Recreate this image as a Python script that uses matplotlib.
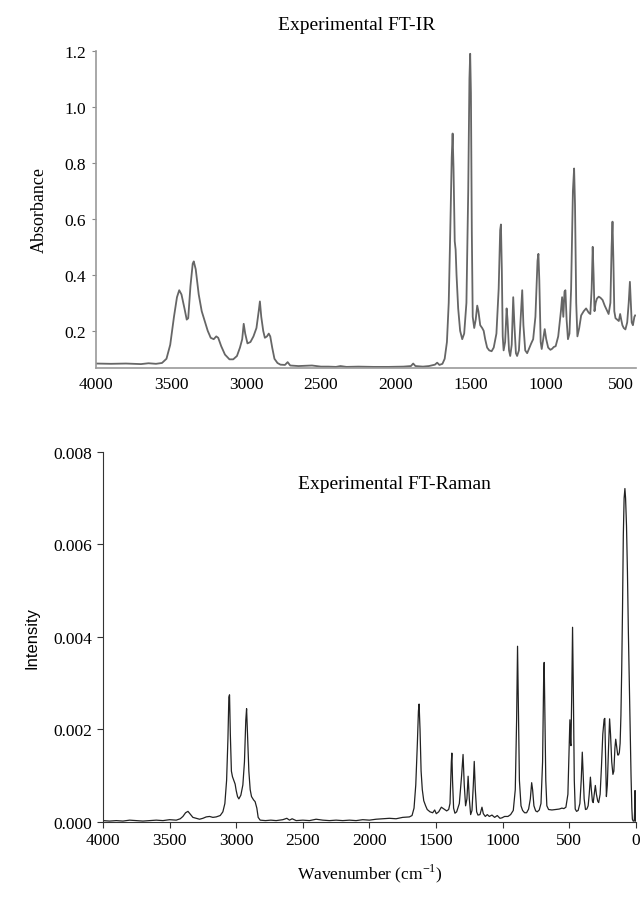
import numpy as np
import matplotlib.pyplot as plt

plt.rcParams['font.family'] = ['Liberation Serif', 'DejaVu Serif']
plt.rcParams['mathtext.fontset'] = 'custom'
plt.rcParams['mathtext.rm'] = 'Liberation Serif'

#===================================================================================================
# FT-IR spectrum (wavenumber cm-1, absorbance)
ir_wn = [4000, 3900, 3800, 3700, 3650, 3600, 3560, 3530, 3505, 3480, 3460, 3445, 3430, 3410, 3395,
         3385, 3370, 3355, 3348, 3335, 3315, 3295, 3275, 3255, 3235, 3215, 3198, 3185, 3165, 3140,
         3110, 3085, 3060, 3040, 3025, 3015, 3005, 2990, 2970, 2950, 2930, 2915, 2907, 2898, 2885,
         2874, 2860, 2848, 2838, 2825, 2810, 2790, 2770, 2740, 2722, 2705, 2650, 2600, 2560, 2500,
         2450, 2400, 2370, 2330, 2250, 2150, 2050, 1950, 1900, 1885, 1870, 1820, 1780, 1740, 1725,
         1710, 1690, 1675, 1660, 1648, 1638, 1628, 1622, 1616, 1608, 1602, 1596, 1585, 1572, 1558,
         1545, 1530, 1518, 1510, 1505, 1500, 1494, 1488, 1478, 1468, 1458, 1450, 1438, 1425, 1415,
         1405, 1392, 1378, 1362, 1348, 1330, 1315, 1305, 1300, 1294, 1288, 1282, 1272, 1262, 1256,
         1246, 1238, 1228, 1218, 1210, 1200, 1192, 1180, 1168, 1158, 1150, 1138, 1125, 1110, 1098,
         1085, 1070, 1056, 1050, 1044, 1035, 1028, 1018, 1008, 998, 985, 970, 958, 948, 935,
         918, 900, 892, 884, 876, 870, 862, 853, 843, 832, 820, 812, 806, 798, 790,
         778, 765, 748, 732, 715, 704, 695, 688, 682, 676, 668, 660, 648, 636, 622,
         608, 595, 582, 570, 562, 556, 550, 544, 536, 525, 514, 505, 498, 490, 481,
         470, 458, 448, 440, 434, 428, 420, 410, 405]
ir_abs = [0.083, 0.082, 0.083, 0.081, 0.084, 0.082, 0.085, 0.100, 0.150, 0.250, 0.320, 0.345, 0.330, 0.280, 0.240,
          0.245, 0.360, 0.440, 0.448, 0.420, 0.330, 0.270, 0.235, 0.200, 0.175, 0.170, 0.180, 0.175, 0.145, 0.115,
          0.098, 0.098, 0.110, 0.140, 0.170, 0.225, 0.190, 0.155, 0.160, 0.180, 0.210, 0.270, 0.305, 0.250, 0.200,
          0.175, 0.180, 0.190, 0.180, 0.140, 0.100, 0.085, 0.079, 0.078, 0.088, 0.076, 0.074, 0.075, 0.076, 0.072,
          0.072, 0.071, 0.074, 0.071, 0.072, 0.071, 0.071, 0.072, 0.074, 0.083, 0.074, 0.072, 0.074, 0.079, 0.086,
          0.078, 0.082, 0.100, 0.160, 0.300, 0.550, 0.820, 0.905, 0.780, 0.520, 0.490, 0.400, 0.280, 0.200, 0.170,
          0.190, 0.300, 0.700, 1.100, 1.190, 1.050, 0.550, 0.250, 0.210, 0.240, 0.290, 0.270, 0.220, 0.210, 0.200,
          0.170, 0.140, 0.130, 0.127, 0.140, 0.190, 0.350, 0.560, 0.580, 0.420, 0.180, 0.130, 0.160, 0.280, 0.240,
          0.130, 0.110, 0.150, 0.320, 0.220, 0.120, 0.110, 0.130, 0.250, 0.345, 0.220, 0.130, 0.120, 0.140, 0.155,
          0.170, 0.250, 0.450, 0.475, 0.380, 0.160, 0.135, 0.170, 0.206, 0.170, 0.140, 0.132, 0.136, 0.142, 0.145,
          0.180, 0.270, 0.320, 0.250, 0.340, 0.345, 0.240, 0.170, 0.190, 0.350, 0.700, 0.780, 0.650, 0.300, 0.180,
          0.210, 0.255, 0.270, 0.280, 0.265, 0.260, 0.350, 0.500, 0.400, 0.270, 0.300, 0.315, 0.322, 0.318, 0.310,
          0.290, 0.275, 0.260, 0.300, 0.500, 0.590, 0.450, 0.270, 0.245, 0.240, 0.235, 0.260, 0.240, 0.220, 0.210,
          0.205, 0.230, 0.300, 0.375, 0.300, 0.230, 0.220, 0.250, 0.255]

#===================================================================================================
# FT-Raman spectrum (wavenumber cm-1, intensity)
raman_wn = [4000, 3950, 3900, 3850, 3800, 3750, 3700, 3650, 3600, 3550, 3500, 3450, 3420, 3400, 3380,
            3362, 3345, 3325, 3300, 3275, 3250, 3225, 3200, 3175, 3150, 3120, 3100, 3085, 3072, 3062,
            3055, 3050, 3044, 3036, 3028, 3018, 3008, 3000, 2990, 2980, 2965, 2950, 2938, 2928, 2922,
            2915, 2905, 2895, 2885, 2870, 2858, 2845, 2835, 2820, 2780, 2740, 2700, 2650, 2620, 2600,
            2580, 2550, 2500, 2450, 2400, 2350, 2300, 2250, 2200, 2150, 2100, 2050, 2000, 1950, 1900,
            1850, 1800, 1750, 1700, 1680, 1665, 1652, 1640, 1632, 1627, 1620, 1612, 1603, 1592, 1578,
            1566, 1545, 1525, 1510, 1498, 1480, 1460, 1440, 1420, 1405, 1395, 1385, 1381, 1376, 1368,
            1358, 1345, 1325, 1308, 1297, 1288, 1278, 1268, 1259, 1250, 1240, 1230, 1220, 1213, 1205,
            1195, 1185, 1170, 1155, 1145, 1130, 1115, 1100, 1080, 1060, 1040, 1020, 1005, 985, 960,
            940, 920, 905, 895, 888, 882, 874, 862, 850, 835, 820, 805, 792, 782, 775,
            765, 752, 740, 725, 712, 700, 692, 688, 683, 676, 668, 655, 630, 600, 575,
            555, 540, 525, 510, 500, 495, 490, 487, 481, 475, 469, 462, 455, 445, 433,
            420, 410, 402, 396, 388, 378, 368, 358, 350, 341, 334, 326, 320, 312, 304,
            296, 286, 279, 268, 258, 248, 238, 233, 226, 221, 214, 205, 197, 190, 181,
            172, 165, 157, 151, 143, 136, 130, 124, 118, 112, 106, 100, 94, 88, 82,
            77, 70, 63, 56, 49, 43, 36, 30, 26, 20, 12, 8, 6, 4, 2]
raman_int = [0.00003, 0.00002, 0.00003, 0.00002, 0.00004, 0.00003, 0.00002, 0.00003, 0.00004, 0.00003,
             0.00005, 0.00004, 0.00007, 0.00012, 0.00020, 0.00023, 0.00017, 0.00010, 0.00008, 0.00006,
             0.00008, 0.00011, 0.00012, 0.00010, 0.00011, 0.00014, 0.00022, 0.00040, 0.00090, 0.00180,
             0.00270, 0.00275, 0.00190, 0.00110, 0.00098, 0.00090, 0.00082, 0.00068, 0.00055, 0.00050,
             0.00058, 0.00080, 0.00130, 0.00220, 0.00245, 0.00190, 0.00110, 0.00070, 0.00055, 0.00048,
             0.00044, 0.00030, 0.00010, 0.00004, 0.00003, 0.00004, 0.00003, 0.00005, 0.00008, 0.00004,
             0.00007, 0.00003, 0.00004, 0.00003, 0.00006, 0.00004, 0.00003, 0.00004, 0.00003, 0.00004,
             0.00003, 0.00005, 0.00004, 0.00006, 0.00007, 0.00008, 0.00007, 0.00010, 0.00011, 0.00014,
             0.00030, 0.00080, 0.00170, 0.00240, 0.00255, 0.00200, 0.00110, 0.00070, 0.00046, 0.00035,
             0.00027, 0.00022, 0.00020, 0.00026, 0.00018, 0.00022, 0.00032, 0.00028, 0.00024, 0.00027,
             0.00040, 0.00130, 0.00149, 0.00090, 0.00030, 0.00019, 0.00022, 0.00040, 0.00100, 0.00146,
             0.00080, 0.00035, 0.00050, 0.00099, 0.00050, 0.00016, 0.00025, 0.00080, 0.00131, 0.00070,
             0.00022, 0.00015, 0.00016, 0.00032, 0.00018, 0.00012, 0.00016, 0.00012, 0.00015, 0.00010,
             0.00014, 0.00008, 0.00009, 0.00012, 0.00012, 0.00016, 0.00025, 0.00070, 0.00220, 0.00380,
             0.00260, 0.00090, 0.00035, 0.00025, 0.00020, 0.00020, 0.00028, 0.00050, 0.00085, 0.00070,
             0.00035, 0.00024, 0.00022, 0.00026, 0.00040, 0.00130, 0.00310, 0.00345, 0.00240, 0.00090,
             0.00035, 0.00027, 0.00026, 0.00027, 0.00028, 0.00030, 0.00029, 0.00032, 0.00060, 0.00170,
             0.00221, 0.00170, 0.00165, 0.00280, 0.00421, 0.00280, 0.00090, 0.00028, 0.00023, 0.00025,
             0.00040, 0.00090, 0.00151, 0.00110, 0.00050, 0.00027, 0.00028, 0.00035, 0.00060, 0.00097,
             0.00070, 0.00045, 0.00042, 0.00060, 0.00079, 0.00060, 0.00045, 0.00042, 0.00060, 0.00120,
             0.00190, 0.00222, 0.00224, 0.00120, 0.00055, 0.00080, 0.00160, 0.00223, 0.00190, 0.00130,
             0.00103, 0.00110, 0.00160, 0.00179, 0.00160, 0.00145, 0.00145, 0.00150, 0.00170, 0.00230,
             0.00330, 0.00460, 0.00620, 0.00700, 0.00721, 0.00700, 0.00640, 0.00540, 0.00410, 0.00300,
             0.00210, 0.00100, 0.00030, 0.00006, 0.00002, 0.00002, 0.00030, 0.00068, 0.00030, 0.00002]

ir_yticks = [0.2, 0.4, 0.6, 0.8, 1.0, 1.2]
raman_yticks = [0.000, 0.002, 0.004, 0.006, 0.008]
wn_ticks = [4000, 3500, 3000, 2500, 2000, 1500, 1000, 500, 0]

#===================================================================================================
fig = plt.figure(figsize=(6.42, 9.04), dpi=100)

#Top panel: FT-IR
ax1 = fig.add_axes([0.1495, 0.5918, 0.841, 0.3507])
ax1.plot(ir_wn, ir_abs, color='#666666', lw=1.3)
ax1.set_xlim(4000, 400)
ax1.set_ylim(0.067, 1.2)
ax1.set_xticks(wn_ticks[:-1])
ax1.set_yticks(ir_yticks)
ax1.set_yticklabels(['%.1f' % v for v in ir_yticks])
ax1.tick_params(axis='x', length=0, pad=6, labelsize=12.5)
ax1.tick_params(axis='y', length=3, color='#888888', labelsize=12.5, pad=4)
for s in ['top', 'right']:
    ax1.spines[s].set_visible(False)
for s in ['left', 'bottom']:
    ax1.spines[s].set_color('#999999')
    ax1.spines[s].set_linewidth(1.2)
ax1.set_ylabel('Absorbance', fontsize=13, labelpad=12)
fig.text(0.555, 0.972, 'Experimental FT-IR', fontsize=14, ha='center', va='center')

#Bottom panel: FT-Raman
ax2 = fig.add_axes([0.1604, 0.0896, 0.830, 0.4093])
ax2.plot(raman_wn, raman_int, color='#222222', lw=0.9)
ax2.set_xlim(4000, 0)
ax2.set_ylim(0, 0.008)
ax2.set_xticks(wn_ticks)
ax2.set_yticks(raman_yticks)
ax2.set_yticklabels(['%.3f' % v for v in raman_yticks])
ax2.tick_params(axis='both', length=4, color='#333333', labelsize=12.5)
ax2.tick_params(axis='x', pad=3)
for s in ['top', 'right']:
    ax2.spines[s].set_visible(False)
for s in ['left', 'bottom']:
    ax2.spines[s].set_color('#333333')
ax2.set_ylabel('Intensity', fontsize=12, family=['Liberation Sans', 'DejaVu Sans'], labelpad=10)
ax2.set_xlabel('Wavenumber (cm$^{\\mathrm{-1}}$)', fontsize=12.5, labelpad=10)
fig.text(0.765, 0.4635, 'Experimental FT-Raman', fontsize=14, ha='right', va='center')

plt.savefig('out.png', dpi=100)
plt.close()
